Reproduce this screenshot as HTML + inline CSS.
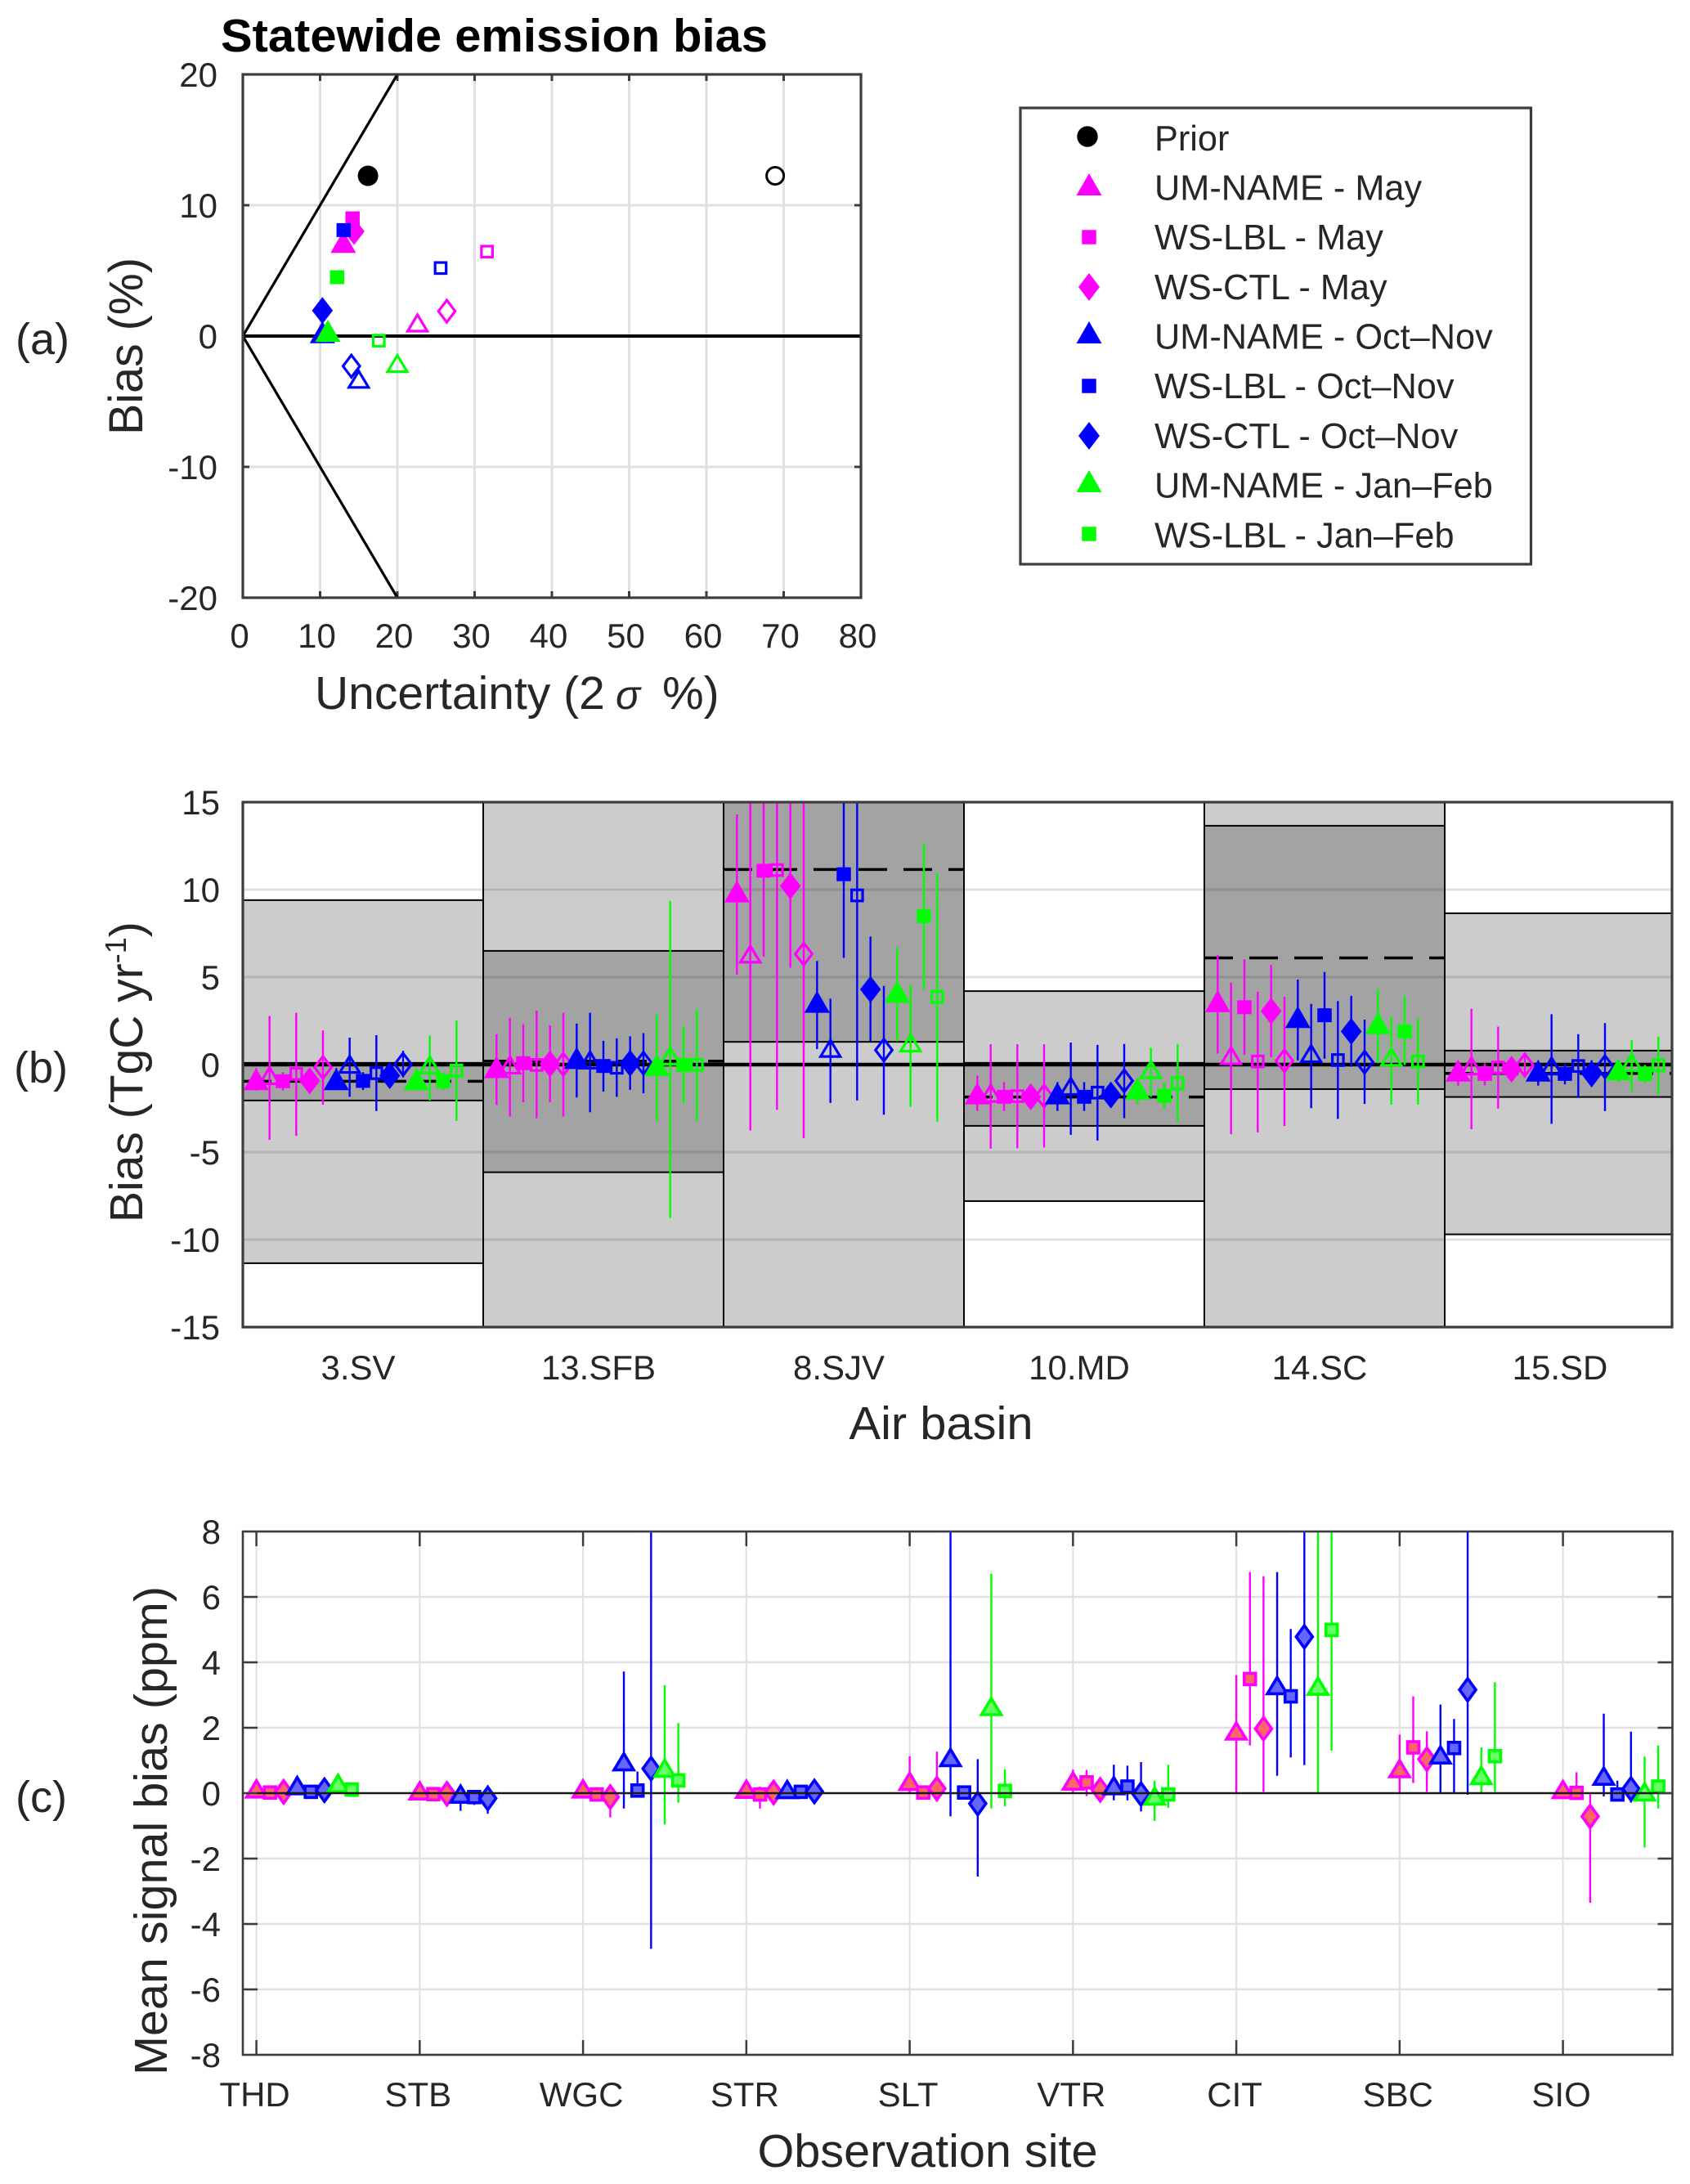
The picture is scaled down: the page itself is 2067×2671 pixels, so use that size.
<!DOCTYPE html>
<html>
<head>
<meta charset="utf-8">
<title>Statewide emission bias</title>
<style>
html,body{margin:0;padding:0;background:#fff;}
svg{display:block;}
text{font-family:"Liberation Sans",Arial,sans-serif;fill:#262626;}
</style>
</head>
<body>
<svg id="figure" xmlns="http://www.w3.org/2000/svg" width="2067" height="2671" viewBox="0 0 2067 2671">
  <defs>
    <clipPath id="clip-a"><rect x="297" y="91" width="755.5" height="640"/></clipPath>
    <clipPath id="clip-b"><rect x="297" y="981" width="1748" height="642"/></clipPath>
    <clipPath id="clip-c"><rect x="297" y="1873" width="1748.5" height="640"/></clipPath>
  </defs>

  <g id="panel-a"></g>
  <g id="panel-b"></g>
  <g id="panel-c"></g>

  <text x="270" y="63" font-size="57" font-weight="bold" textLength="669" lengthAdjust="spacingAndGlyphs" style="fill:#000">Statewide emission bias</text>
  <text x="19" y="433" font-size="54">(a)</text>
  <text x="17" y="1324" font-size="54">(b)</text>
  <text x="19" y="2216" font-size="54">(c)</text>

  <text transform="translate(174,532) rotate(-90)" font-size="58" textLength="217" lengthAdjust="spacingAndGlyphs">Bias (%)</text>
  <text y="867" font-size="57"><tspan x="385">Uncertainty (2</tspan><tspan x="753" font-size="50" font-style="italic">σ</tspan><tspan x="810">%)</tspan></text>

  <text transform="translate(174,1495) rotate(-90)" font-size="57">Bias (TgC yr<tspan font-size="36" dy="-20">-1</tspan><tspan dy="20">)</tspan></text>
  <text x="1151" y="1760" font-size="57" text-anchor="middle" textLength="225" lengthAdjust="spacingAndGlyphs">Air basin</text>

  <text transform="translate(204,2538) rotate(-90)" font-size="57" textLength="598" lengthAdjust="spacingAndGlyphs">Mean signal bias (ppm)</text>
  <text x="1134.5" y="2650" font-size="57" text-anchor="middle" textLength="416" lengthAdjust="spacingAndGlyphs">Observation site</text>

  <g>
    <rect x="1248" y="132" width="624.5" height="558" fill="#fff" stroke="#3c3c3c" stroke-width="3.2"/>
    <circle cx="1330" cy="167" r="12.7" fill="#000"/>
    <text x="1412" y="184" font-size="43.3">Prior</text>
    <polygon points="1332,212 1347.5,239 1316.5,239" fill="#ff00ff"/>
    <text x="1412" y="244.5" font-size="43.3">UM-NAME - May</text>
    <rect x="1323.25" y="281.25" width="17.5" height="17.5" fill="#ff00ff"/>
    <text x="1412" y="305" font-size="43.3">WS-LBL - May</text>
    <polygon points="1332,334 1345,351 1332,368 1319,351" fill="#ff00ff"/>
    <text x="1412" y="366" font-size="43.3">WS-CTL - May</text>
    <polygon points="1332,393 1347.5,420 1316.5,420" fill="#0000ff"/>
    <text x="1412" y="426.5" font-size="43.3">UM-NAME - Oct–Nov</text>
    <rect x="1323.25" y="463.25" width="17.5" height="17.5" fill="#0000ff"/>
    <text x="1412" y="487" font-size="43.3">WS-LBL - Oct–Nov</text>
    <polygon points="1332,516 1345,533 1332,550 1319,533" fill="#0000ff"/>
    <text x="1412" y="548" font-size="43.3">WS-CTL - Oct–Nov</text>
    <polygon points="1332,575 1347.5,602 1316.5,602" fill="#00ff00"/>
    <text x="1412" y="608.5" font-size="43.3">UM-NAME - Jan–Feb</text>
    <rect x="1323.25" y="644.25" width="17.5" height="17.5" fill="#00ff00"/>
    <text x="1412" y="669.5" font-size="43.3">WS-LBL - Jan–Feb</text>
  </g>
</svg>

<script>
/* ---------- Panel (a) data ---------- */
const aXTicks = [0,10,20,30,40,50,60,70,80];
const aYTicks = [20,10,0,-10,-20];
const aPriorUncertainty = [16.2, 68.9];
const aPriorBias = [12.25, 12.25];
const aPosteriorUncertainty = [13, 14.2, 14.4, 10.3, 13.05, 10.3, 11, 12.2];
const aPosteriorBias = [7.2, 9.0, 8.0, 0.3, 8.1, 1.95, 0.4, 4.5];
const aEnsembleUncertainty = [22.6, 31.6, 26.4, 15, 25.6, 14.05, 20, 17.6];
const aEnsembleBias = [1.0, 6.45, 1.9, -3.3, 5.2, -2.3, -2.1, -0.35];
const aWedgeUncertainty = [20, 0, 20];
const aWedgeBias = [20, 0, -20];

/* ---------- Panel (b) data ---------- */
const bBasins = ["3.SV","13.SFB","8.SJV","10.MD","14.SC","15.SD"];
const bYTicks = [15,10,5,0,-5,-10,-15];
const bPriorHigh = [9.4, 20, 20, 4.2, 20, 8.65];
const bPriorLow = [-11.35, -20, -20, -7.8, -20, -9.7];
const bPosteriorHigh = [0.1, 6.5, 20, 0.1, 13.65, 0.8];
const bPosteriorLow = [-2.05, -6.15, 1.3, -3.5, -1.4, -1.85];
const bPosteriorMean = [-0.95, 0.2, 11.15, -1.85, 6.1, -0.5];

const bMeanSV = [-.83,-.63,-.95,-.53,-.93,-.16,-.83,.02,-.93,-.49,-.63,.02,-.83,-.02,-.95,-.34];
const bLowSV = [-1.48,-4.3,-1.48,-4.07,-1.4,-2.29,-1.45,-1.84,-1.45,-2.65,-1.25,-.73,-1.45,-2.05,-1.45,-3.22];
const bHighSV = [-.2,2.78,-.43,2.96,-.5,1.95,-.2,1.54,-.43,1.68,0,.79,-.2,1.66,-.47,2.51];
const bMeanSFB = [-.14,-.02,.08,-.02,.04,.02,.38,.26,-.08,-.18,.08,.08,-.02,.49,-.02,-.02];
const bLowSFB = [-2.31,-2.96,-2.15,-3.06,-2.15,-2.96,-1.88,-2.72,-1.54,-1.84,-1.44,-1.64,-3.22,-8.77,-2.25,-3.22];
const bHighSFB = [1.74,2.67,2.31,3.08,2.25,2.96,2.35,2.96,1.36,1.5,1.62,1.8,2.86,9.36,2.21,3.18];
const bMeanSJV = [9.9,6.32,11.08,11.12,10.21,6.32,3.59,.93,10.88,9.67,4.3,.83,4.17,1.24,8.49,3.87];
const bLowSJV = [5.15,-3.77,6.16,-2.59,5.53,-4.21,.89,-2.19,6.1,-2.05,1.34,-2.86,1.34,-2.41,4.3,-3.26];
const bHighSJV = [14.3,16,16,16,16,16,5.92,3.77,16,16,7.32,4.5,6.7,4.54,12.66,10.92];
const bMeanMD = [-1.64,-1.64,-1.84,-1.8,-1.84,-1.8,-1.64,-1.24,-1.84,-1.6,-1.74,-.93,-1.36,-.28,-1.78,-1.07];
const bLowMD = [-2.65,-4.8,-2.65,-4.78,-2.5,-4.74,-2.65,-4.01,-2.65,-4.34,-2.4,-3.06,-2.25,-1.84,-2.55,-3.3];
const bHighMD = [-.63,1.16,-1,1.16,-1.15,1.16,-1,1.26,-1,1.13,-1.15,1.18,-.8,.97,-1,1.18];
const bMeanSC = [3.63,.51,3.28,.18,3.06,.22,2.72,.63,2.82,.26,1.9,.14,2.37,.43,1.9,.18];
const bLowSC = [.63,-3.97,.55,-3.87,.43,-3.51,.24,-2.49,.34,-3.1,-.12,-2.25,.08,-2.29,-.02,-2.29];
const bHighSC = [6.26,4.68,6.02,4.17,5.69,3.87,4.86,3.47,5.29,3.63,3.93,2.57,4.32,2.74,3.93,2.65];
const bMeanSD = [-.34,-.08,-.53,-.16,-.26,-.02,-.34,-.08,-.53,-.08,-.53,-.12,-.26,.12,-.53,-.04];
const bLowSD = [-1.2,-3.69,-1.18,-2.51,-.85,-.73,-1.2,-3.38,-1.13,-1.9,-1.25,-2.65,-1.03,-1.54,-1.07,-1.68];
const bHighSD = [.2,3.2,.08,2.17,.28,.69,.2,2.88,.08,1.74,.25,2.37,.28,1.4,-.02,1.6];
const bMean = [bMeanSV,bMeanSFB,bMeanSJV,bMeanMD,bMeanSC,bMeanSD];
const bLow = [bLowSV,bLowSFB,bLowSJV,bLowMD,bLowSC,bLowSD];
const bHigh = [bHighSV,bHighSFB,bHighSJV,bHighMD,bHighSC,bHighSD];

/* ---------- Panel (c) data ---------- */
const cSites = ["THD","STB","WGC","STR","SLT","VTR","CIT","SBC","SIO"];
const cYTicks = [8,6,4,2,0,-2,-4,-6,-8];
const cMeanTHD = [.13,.02,.04,.23,.04,.09,.30,.11];
const cLowTHD = [.03,-.08,-.06,.13,-.06,-.01,.2,.01];
const cHighTHD = [.23,.12,.14,.33,.14,.19,.4,.21];
const cMeanSTB = [.07,-.03,-.02,-.03,-.12,-.16];
const cLowSTB = [-.03,-.13,-.12,-.54,-.36,-.63];
const cHighSTB = [.17,.07,.08,.24,.1,.24];
const cMeanWGC = [.13,-.04,-.12,.96,.08,.75,.76,.39];
const cLowWGC = [.03,-.14,-.74,-.47,-.12,-4.76,-.96,-.29];
const cHighWGC = [.23,.06,.24,3.72,.66,8.5,3.3,2.14];
const cMeanSTR = [.12,-.04,.02,.11,.04,.05];
const cLowSTR = [.02,-.47,-.08,.01,-.06,-.05];
const cHighSTR = [.22,.2,.12,.21,.14,.15];
const cMeanSLT = [.36,.02,.14,1.09,.02,-.32,2.65,.07];
const cLowSLT = [0,-.08,-.03,-.71,-.08,-2.55,-.47,-.4];
const cHighSLT = [1.13,.12,1.27,8.5,.12,1.04,6.71,.73];
const cMeanVTR = [.37,.33,.1,.23,.2,-.03,-.09,-.04];
const cLowVTR = [.02,-.09,0,-.22,-.22,-.56,-.85,-.45];
const cHighVTR = [.72,.71,.2,.87,.84,.95,.38,.87];
const cMeanCIT = [1.9,3.49,1.97,3.29,2.96,4.78,3.27,4.99];
const cLowCIT = [.02,1.46,.04,.53,1.09,.86,.02,1.3];
const cHighCIT = [3.61,6.76,6.63,6.76,5.02,8.5,8.5,8.5];
const cMeanSBC = [.75,1.4,1.04,1.17,1.38,3.16,.54,1.13];
const cLowSBC = [0,.31,.04,0,0,-.05,0,.04];
const cHighSBC = [1.79,2.96,1.89,2.71,2.27,8.5,1.4,3.39];
const cMeanSIO = [.11,.01,-.71,.52,-.04,.13,.04,.2];
const cLowSIO = [.01,-.15,-3.35,-.1,-.25,-.29,-1.66,-.47];
const cHighSIO = [.21,.64,-.03,2.43,.38,1.88,1.12,1.46];
const cMean = [cMeanTHD,cMeanSTB,cMeanWGC,cMeanSTR,cMeanSLT,cMeanVTR,cMeanCIT,cMeanSBC,cMeanSIO];
const cLow = [cLowTHD,cLowSTB,cLowWGC,cLowSTR,cLowSLT,cLowVTR,cLowCIT,cLowSBC,cLowSIO];
const cHigh = [cHighTHD,cHighSTB,cHighWGC,cHighSTR,cHighSLT,cHighVTR,cHighCIT,cHighSBC,cHighSIO];

/* ---------- Shared series styling ---------- */
const seriesShapes = ["tri","sq","dia"];
const seriesColors = ["#ff00ff","#0000ff","#00ff00"];
const seriesFaces = ["#ff6666","#6666ff","#66ff66"];
const GRID = "#e0e0e0";
const FRAME = "#3c3c3c";
const NS = "http://www.w3.org/2000/svg";

/* ---------- Axis functions ---------- */
const xA = v => 297 + v * 9.45;
const yA = v => 411 - v * 16;
const xB = t => 297 + t * 294;
const yB = v => 1302 - v * 21.4;
const xC = t => 313.6 + t * 199.75;
const yC = v => 2193 - v * 40;

function addLine(parent, x1, y1, x2, y2, color, width, name) {
  const el = document.createElementNS(NS, "line");
  el.setAttribute("x1", x1);
  el.setAttribute("y1", y1);
  el.setAttribute("x2", x2);
  el.setAttribute("y2", y2);
  el.setAttribute("stroke", color);
  el.setAttribute("stroke-width", width);
  
  
  parent.appendChild(el);
  return el;
}

function addLabel(parent, x, y, str, anchor, name) {
  const el = document.createElementNS(NS, "text");
  el.setAttribute("x", x);
  el.setAttribute("y", y);
  el.setAttribute("font-size", "42");
  el.setAttribute("text-anchor", anchor);
  el.textContent = str;
  
  
  parent.appendChild(el);
  return el;
}

function addMark(parent, shape, cx, cy, w, h, fill, stroke, sw, name) {
  let el;
  if (shape === "sq") {
    el = document.createElementNS(NS, "rect");
    el.setAttribute("x", cx - w / 2);
    el.setAttribute("y", cy - h / 2);
    el.setAttribute("width", w);
    el.setAttribute("height", h);
  } else if (shape === "tri") {
    el = document.createElementNS(NS, "polygon");
    el.setAttribute("points", [cx, cy - h / 2, cx + w / 2, cy + h / 2, cx - w / 2, cy + h / 2].join(" "));
  } else if (shape === "dia") {
    el = document.createElementNS(NS, "polygon");
    el.setAttribute("points", [cx, cy - h / 2, cx + w / 2, cy, cx, cy + h / 2, cx - w / 2, cy].join(" "));
  } else {
    el = document.createElementNS(NS, "ellipse");
    el.setAttribute("cx", cx);
    el.setAttribute("cy", cy);
    el.setAttribute("rx", w / 2);
    el.setAttribute("ry", h / 2);
  }
  el.setAttribute("fill", fill);
  el.setAttribute("stroke", stroke);
  el.setAttribute("stroke-width", sw);
  
  
  parent.appendChild(el);
  return el;
}

/* Marker geometry keyed by shape: filled (panels a, b), open (panels a, b), faced (panel c) */
function filledMark(p, shape, x, y, color, name) {
  if (shape === "tri") addMark(p, shape, x, y, 31, 27, color, "none", 0, name);
  else if (shape === "sq") addMark(p, shape, x, y, 17.5, 17, color, "none", 0, name);
  else addMark(p, shape, x, y, 25.5, 33, color, "none", 0, name);
}
function openMark(p, shape, x, y, color, name) {
  if (shape === "tri") addMark(p, shape, x, y, 24, 20, "none", color, 3.2, name);
  else if (shape === "sq") addMark(p, shape, x, y, 13.5, 13.5, "none", color, 3.2, name);
  else addMark(p, shape, x, y, 20.5, 27, "none", color, 3.2, name);
}
function facedMark(p, shape, x, y, color, face, name) {
  if (shape === "tri") addMark(p, shape, x, y, 24, 20, face, color, 3.6, name);
  else if (shape === "sq") addMark(p, shape, x, y, 14, 14, face, color, 3.6, name);
  else addMark(p, shape, x, y, 20, 27.5, face, color, 3.6, name);
}

/* ---------- Panel (a) ---------- */
(function () {
  const g = document.getElementById("panel-a");
  aXTicks.forEach(function (t) {
    if (t > 0 && t < 80) {
      addLine(g, xA(t), yA(20), xA(t), yA(-20), GRID, 3, "panel-a-x-gridline");
      addLine(g, xA(t), yA(-20), xA(t), yA(-20) - 8, FRAME, 3, "panel-a-x-tick");
      addLine(g, xA(t), yA(20), xA(t), yA(20) + 8, FRAME, 3, "panel-a-x-tick-top");
    }
    addLabel(g, xA(t) - 4, 792, String(t), "middle", "panel-a-x-tick-label");
  });
  aYTicks.forEach(function (t) {
    if (t !== 20 && t !== -20) {
      addLine(g, xA(0), yA(t), xA(80), yA(t), t === 0 ? "#000" : GRID, t === 0 ? 4 : 3, t === 0 ? "panel-a-zero-line" : "panel-a-y-gridline");
      addLine(g, xA(0), yA(t), xA(0) + 8, yA(t), t === 0 ? "#000" : FRAME, 3, "panel-a-y-tick");
      addLine(g, xA(80), yA(t), xA(80) - 8, yA(t), t === 0 ? "#000" : FRAME, 3, "panel-a-y-tick-right");
    }
    addLabel(g, 266, yA(t) + 15, String(t), "end", "panel-a-y-tick-label");
  });
  const clip = document.createElementNS(NS, "g");
  clip.setAttribute("clip-path", "url(#clip-a)");
  
  
  g.appendChild(clip);
  addLine(clip, xA(aWedgeUncertainty[1]), yA(aWedgeBias[1]), xA(aWedgeUncertainty[0]), yA(aWedgeBias[0]), "#000", 3.2, "panel-a-upper-wedge-line");
  addLine(clip, xA(aWedgeUncertainty[1]), yA(aWedgeBias[1]), xA(aWedgeUncertainty[2]), yA(aWedgeBias[2]), "#000", 3.2, "panel-a-lower-wedge-line");

  const colorIdx = [0,0,0,1,1,1,2,2];
  aEnsembleUncertainty.forEach(function (u, i) {
    openMark(g, seriesShapes[i % 3], xA(u), yA(aEnsembleBias[i]), seriesColors[colorIdx[i]], "panel-a-open-marker");
  });
  /* draw filled marks in the stacking order of the picture */
  [0,2,1,4,3,5,6,7].forEach(function (i) {
    filledMark(g, seriesShapes[i % 3], xA(aPosteriorUncertainty[i]), yA(aPosteriorBias[i]), seriesColors[colorIdx[i]], "panel-a-filled-marker");
  });
  addMark(g, "circle", xA(aPriorUncertainty[0]), yA(aPriorBias[0]), 25, 25, "#000", "none", 0, "panel-a-prior-filled");
  addMark(g, "circle", xA(aPriorUncertainty[1]), yA(aPriorBias[1]), 21, 21, "none", "#000", 3, "panel-a-prior-open");

  const frame = document.createElementNS(NS, "rect");
  frame.setAttribute("x", xA(0));
  frame.setAttribute("y", yA(20));
  frame.setAttribute("width", xA(80) - xA(0));
  frame.setAttribute("height", yA(-20) - yA(20));
  frame.setAttribute("fill", "none");
  frame.setAttribute("stroke", FRAME);
  frame.setAttribute("stroke-width", "3.2");
  
  
  g.appendChild(frame);
})();

/* ---------- Panel (b) ---------- */
(function () {
  const g = document.getElementById("panel-b");
  const plot = document.createElementNS(NS, "g");
  plot.setAttribute("clip-path", "url(#clip-b)");
  
  
  g.appendChild(plot);

  bYTicks.forEach(function (t) {
    if (Math.abs(t) < 15 && t !== 0) addLine(plot, 297, yB(t), 2045, yB(t), GRID, 3, "panel-b-y-gridline");
    addLabel(g, 269, yB(t) + 15, String(t), "end", "panel-b-y-tick-label");
  });

  function band(i, hi, lo, name) {
    const el = document.createElementNS(NS, "rect");
    el.setAttribute("x", xB(i));
    el.setAttribute("y", yB(hi));
    el.setAttribute("width", xB(i + 1) - xB(i));
    el.setAttribute("height", yB(lo) - yB(hi));
    el.setAttribute("fill", "#000");
    el.setAttribute("fill-opacity", "0.2");
    el.setAttribute("stroke", "#000");
    el.setAttribute("stroke-width", "2");
    
    
    plot.appendChild(el);
  }
  bBasins.forEach(function (b, i) {
    band(i, bPriorHigh[i], bPriorLow[i], "panel-b-prior-band");
    band(i, bPosteriorHigh[i], bPosteriorLow[i], "panel-b-posterior-band");
  });
  addLine(plot, 297, yB(0), 2045, yB(0), "#000", 4.5, "panel-b-zero-line");
  bBasins.forEach(function (b, i) {
    const d = addLine(plot, xB(i), yB(bPosteriorMean[i]), xB(i + 1), yB(bPosteriorMean[i]), "#000", 3.5, "panel-b-posterior-mean-dashed-line");
    d.setAttribute("stroke-dasharray", "35 20");
    addLabel(g, xB(i) + 141, 1687, b, "middle", "panel-b-x-tick-label");
  });
  bBasins.forEach(function (b, i) {
    bMean[i].forEach(function (m, k) {
      const x = xB(i + (k + 1) / 18);
      const color = seriesColors[k < 6 ? 0 : k < 12 ? 1 : 2];
      const shape = seriesShapes[Math.floor(k / 2) % 3];
      addLine(plot, x, yB(bHigh[i][k]), x, yB(bLow[i][k]), color, 2.4, "panel-b-error-bar");
      if (k % 2 === 0) filledMark(plot, shape, x, yB(m), color, "panel-b-filled-marker");
      else openMark(plot, shape, x, yB(m), color, "panel-b-open-marker");
    });
  });
  const frame = document.createElementNS(NS, "rect");
  frame.setAttribute("x", 297);
  frame.setAttribute("y", yB(15));
  frame.setAttribute("width", 1748);
  frame.setAttribute("height", yB(-15) - yB(15));
  frame.setAttribute("fill", "none");
  frame.setAttribute("stroke", FRAME);
  frame.setAttribute("stroke-width", "3.2");
  
  
  g.appendChild(frame);
})();

/* ---------- Panel (c) ---------- */
(function () {
  const g = document.getElementById("panel-c");
  const plot = document.createElementNS(NS, "g");
  plot.setAttribute("clip-path", "url(#clip-c)");
  
  
  g.appendChild(plot);

  cYTicks.forEach(function (t) {
    if (Math.abs(t) < 8 && t !== 0) addLine(plot, 297, yC(t), 2045.5, yC(t), GRID, 2.5, "panel-c-y-gridline");
    if (Math.abs(t) < 8) {
      addLine(g, 297, yC(t), 315, yC(t), FRAME, 2.5, "panel-c-y-tick");
      addLine(g, 2045.5, yC(t), 2027.5, yC(t), FRAME, 2.5, "panel-c-y-tick-right");
    }
    addLabel(g, 270, yC(t) + 15, String(t), "end", "panel-c-y-tick-label");
  });
  cSites.forEach(function (s, i) {
    const x = xC(i);
    addLine(plot, x, 1873, x, 2513, GRID, 2, "panel-c-x-gridline");
    addLine(g, x, 1873, x, 1891, FRAME, 2.5, "panel-c-x-tick-top");
    addLine(g, x, 2513, x, 2495, FRAME, 2.5, "panel-c-x-tick");
    addLabel(g, x - 2, 2576, s, "middle", "panel-c-x-tick-label");
  });
  cSites.forEach(function (s, i) {
    cMean[i].forEach(function (m, k) {
      const x = xC(i + k / 12);
      const c = k < 3 ? 0 : k < 6 ? 1 : 2;
      addLine(plot, x, yC(cHigh[i][k]), x, yC(cLow[i][k]), seriesColors[c], 2.4, "panel-c-error-bar");
      facedMark(plot, seriesShapes[k % 3], x, yC(m), seriesColors[c], seriesFaces[c], "panel-c-marker");
    });
  });
  addLine(plot, xC(0), yC(0), 2045.5, yC(0), "#1a1a1a", 2.6, "panel-c-zero-line");
  const frame = document.createElementNS(NS, "rect");
  frame.setAttribute("x", 297);
  frame.setAttribute("y", yC(8));
  frame.setAttribute("width", 1748.5);
  frame.setAttribute("height", yC(-8) - yC(8));
  frame.setAttribute("fill", "none");
  frame.setAttribute("stroke", FRAME);
  frame.setAttribute("stroke-width", "2.6");
  
  
  g.appendChild(frame);
})();
</script>
</body>
</html>
